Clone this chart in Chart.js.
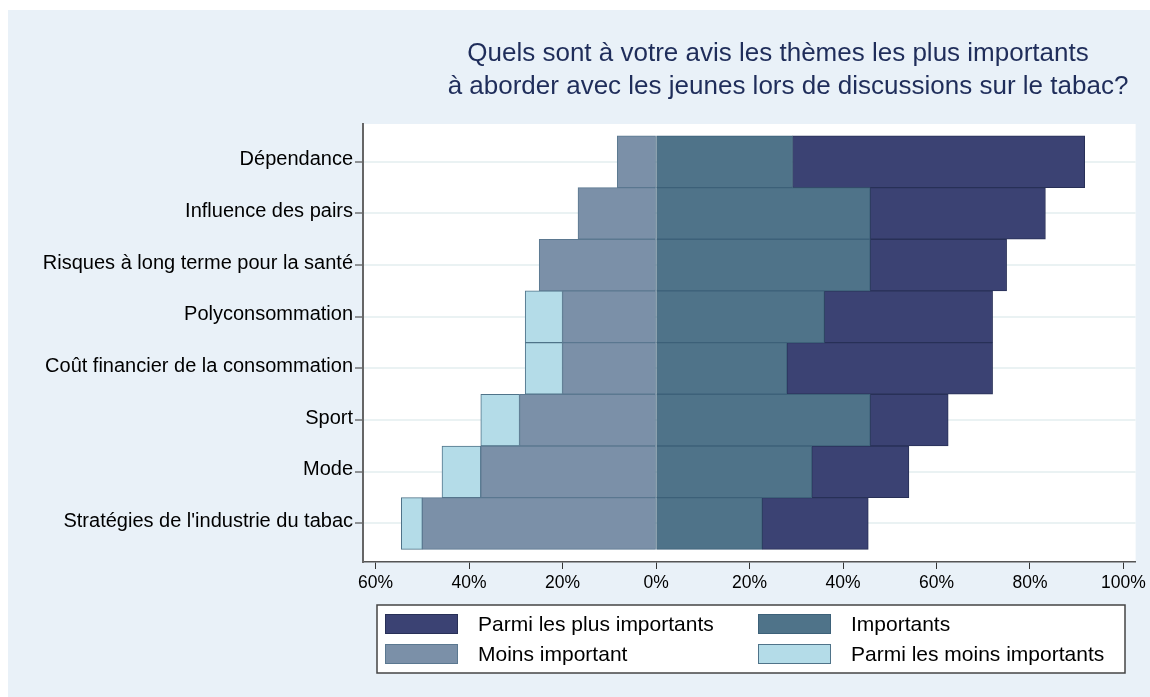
<!DOCTYPE html>
<html lang="fr">
<head>
  <meta charset="UTF-8" />
  <title>Thèmes à aborder avec les jeunes</title>
  <script src="https://cdn.jsdelivr.net/npm/chart.js"></script>
  <style>
    body { margin: 0; background: #fff; }
    canvas { display: block; }
  </style>
</head>
<body>
  <canvas id="chart" width="1150" height="697"></canvas>

  <script>
    const categories = [
      "Dépendance",
      "Influence des pairs",
      "Risques à long terme pour la santé",
      "Polyconsommation",
      "Coût financier de la consommation",
      "Sport",
      "Mode",
      "Stratégies de l'industrie du tabac"
    ];
    // percentages, negative side = less important
    const plusImportants  = [62.5, 37.5, 29.2, 36, 44, 16.7, 20.8, 22.7];
    const importants      = [29.2, 45.8, 45.8, 36, 28, 45.8, 33.3, 22.7];
    const moinsImportant  = [-8.3, -16.7, -25, -20, -20, -29.2, -37.5, -50];
    const moinsImportants = [null, null, null, -8, -8, -8.3, -8.3, -4.5];
    const xTicks = [-60, -40, -20, 0, 20, 40, 60, 80, 100];

    const titleLines = [
      "Quels sont à votre avis les thèmes les plus importants",
      "à aborder avec les jeunes lors de discussions sur le tabac?"
    ];

    const FONT = '"Liberation Sans", Arial, sans-serif';
    const toPoints = arr => arr.map((v, i) => ({ x: v, y: i }));

    const backgroundPlugin = {
      id: 'panel',
      beforeDraw(chart) {
        const { ctx, chartArea } = chart;
        ctx.save();
        ctx.fillStyle = '#ffffff';
        ctx.fillRect(0, 0, chart.width, chart.height);
        ctx.fillStyle = '#E9F1F8';
        ctx.fillRect(8, 10, chart.width - 8, chart.height - 10);
        ctx.fillStyle = '#ffffff';
        ctx.fillRect(chartArea.left, chartArea.top, chartArea.right - chartArea.left, chartArea.bottom - chartArea.top);
        ctx.restore();
      }
    };

    const titlePlugin = {
      id: 'twoLineTitle',
      afterDraw(chart) {
        const ctx = chart.ctx;
        ctx.save();
        ctx.font = '26px ' + FONT;
        ctx.fillStyle = '#1F2D5A';
        ctx.textAlign = 'center';
        ctx.textBaseline = 'alphabetic';
        ctx.fillText(titleLines[0], 778, 61);
        ctx.fillText(titleLines[1], 788, 94);
        ctx.restore();
      }
    };

    // legend box in two columns, Stata style
    const legendPlugin = {
      id: 'boxLegend',
      afterDraw(chart) {
        const ctx = chart.ctx;
        const order = [1, 0, 2, 3];
        ctx.save();
        ctx.fillStyle = '#ffffff';
        ctx.fillRect(377, 605, 748, 68);
        ctx.strokeStyle = '#444';
        ctx.lineWidth = 1.5;
        ctx.strokeRect(377, 605, 748, 68);
        ctx.font = '21px ' + FONT;
        ctx.textBaseline = 'middle';
        ctx.textAlign = 'left';
        order.forEach((di, k) => {
          const ds = chart.data.datasets[di];
          const col = k % 2, row = Math.floor(k / 2);
          const x = col === 0 ? 385 : 758;
          const y = 614 + row * 30;
          ctx.fillStyle = ds.backgroundColor;
          ctx.fillRect(x, y, 73, 20);
          ctx.strokeStyle = ds.borderColor;
          ctx.lineWidth = 1;
          ctx.strokeRect(x + 0.5, y + 0.5, 72, 19);
          ctx.fillStyle = '#000';
          ctx.fillText(ds.label, x + 93, y + 11);
        });
        ctx.restore();
      }
    };

    new Chart(document.getElementById('chart'), {
      type: 'bar',
      data: {
        datasets: [
          { label: 'Importants', data: toPoints(importants),
            backgroundColor: '#4F7389', borderColor: '#3D6179' },
          { label: 'Parmi les plus importants', data: toPoints(plusImportants),
            backgroundColor: '#3B4273', borderColor: '#283057' },
          { label: 'Moins important', data: toPoints(moinsImportant),
            backgroundColor: '#7B90A8', borderColor: '#5B7890' },
          { label: 'Parmi les moins importants', data: toPoints(moinsImportants),
            backgroundColor: '#B4DCE8', borderColor: '#4F7389' }
        ]
      },
      options: {
        indexAxis: 'y',
        responsive: false,
        animation: false,
        devicePixelRatio: 1,
        datasets: {
          bar: { categoryPercentage: 1, barPercentage: 1, borderWidth: 1, borderSkipped: false }
        },
        layout: { padding: { top: 124, right: 10, bottom: 99, left: 0 } },
        plugins: {
          legend: { display: false },
          title: { display: false },
          tooltip: { enabled: false }
        },
        scales: {
          x: {
            type: 'linear',
            stacked: true,
            min: -62.7,
            max: 102.6,
            afterBuildTicks: s => { s.ticks = xTicks.map(v => ({ value: v })); },
            afterFit: s => { s.height = 36; },
            grid: { drawOnChartArea: false, tickLength: 7, tickColor: '#333', tickWidth: 1 },
            border: { display: true, color: '#555', width: 1.5 },
            ticks: {
              maxRotation: 0,
              autoSkip: false,
              padding: 4,
              color: '#000',
              font: { family: FONT, size: 17.5 },
              callback: v => Math.abs(v) + '%'
            }
          },
          y: {
            type: 'linear',
            stacked: true,
            reverse: true,
            offset: false,
            min: -0.73,
            max: 7.745,
            afterBuildTicks: s => { s.ticks = categories.map((c, i) => ({ value: i })); },
            afterFit: s => { s.width = 363; },
            grid: { offset: false, color: '#EAF2F3', lineWidth: 2, tickLength: 8, tickColor: '#333', tickWidth: 1 },
            border: { display: true, color: '#666', width: 2 },
            ticks: {
              autoSkip: false,
              padding: 2,
              labelOffset: -2,
              color: '#000',
              font: { family: FONT, size: 20 },
              callback: v => categories[v]
            }
          }
        }
      },
      plugins: [backgroundPlugin, titlePlugin, legendPlugin]
    });
  </script>
</body>
</html>
